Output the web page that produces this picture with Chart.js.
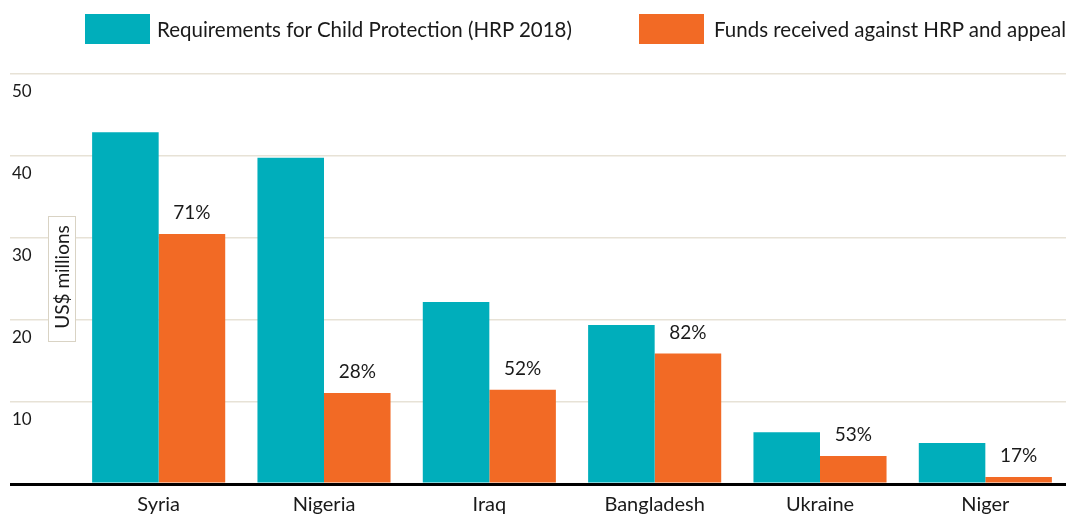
<!DOCTYPE html>
<html>
<head>
<meta charset="utf-8">
<script src="https://cdn.jsdelivr.net/npm/chart.js@4.4.1/dist/chart.umd.min.js"></script>
<style>
  html, body { margin: 0; padding: 0; background: #ffffff; overflow: hidden; }
  #wrap { position: relative; width: 1068px; height: 516px; }
  #wrap canvas { position: absolute; left: 0; top: 0; }
  .lg-box { position: absolute; top: 14px; width: 65px; height: 30px; }
  .lg-text { position: absolute; top: 14px; height: 30px; line-height: 30px;
             font-family: Lato, "DejaVu Sans", sans-serif; font-size: 20.5px;
             color: #1a1a1a; white-space: nowrap; }
</style>
</head>
<body>
<div id="wrap">
  <canvas id="chart" width="1068" height="516"></canvas>
  <div id="legend"></div>
</div>
<script>
// ---- data ----
const categories = ['Syria', 'Nigeria', 'Iraq', 'Bangladesh', 'Ukraine', 'Niger'];
const requirements = [42.9, 39.8, 22.2, 19.4, 6.3, 5.0];      // US$ millions
const fundsReceived = [30.5, 11.1, 11.5, 15.9, 3.4, 0.85];    // US$ millions
const fundedPercent = [71, 28, 52, 82, 53, 17];               // labels over orange bars
const seriesLabels = ['Requirements for Child Protection (HRP 2018)', 'Funds received against HRP and appeal'];
const seriesColors = ['#00aebb', '#f26a25'];
const yTickValues = [0, 10, 20, 30, 40, 50];
const yAxisTitle = 'US$ millions';

const FONT = 'Lato, "DejaVu Sans", sans-serif';
const TEXT = '#1a1a1a';
const GRID = '#e7e2d6';

// ---- HTML legend ----
const legendPos = [{box: 85, text: 157}, {box: 639, text: 714}];
const legendEl = document.getElementById('legend');
seriesLabels.forEach((lab, i) => {
  const b = document.createElement('div');
  b.className = 'lg-box';
  b.style.left = legendPos[i].box + 'px';
  b.style.background = seriesColors[i];
  legendEl.appendChild(b);
  const t = document.createElement('div');
  t.className = 'lg-text';
  t.style.left = legendPos[i].text + 'px';
  t.textContent = lab;
  legendEl.appendChild(t);
});

// ---- plugins ----
const pctLabels = {
  id: 'pctLabels',
  afterDatasetsDraw(chart) {
    const ctx = chart.ctx;
    const meta = chart.getDatasetMeta(1);
    ctx.save();
    ctx.font = '19px ' + FONT;
    ctx.fillStyle = TEXT;
    ctx.textAlign = 'center';
    ctx.textBaseline = 'alphabetic';
    meta.data.forEach((bar, i) => {
      ctx.fillText(fundedPercent[i] + '%', bar.x, bar.y - 15);
    });
    ctx.restore();
  }
};

const unitBox = {
  id: 'unitBox',
  afterDraw(chart) {
    const ctx = chart.ctx;
    const right = chart.chartArea.left;
    const w = 28, h = 126;
    const cy = chart.scales.y.getPixelForValue(25);
    const x = right - w, y = cy - h / 2;
    ctx.save();
    ctx.fillStyle = '#ffffff';
    ctx.fillRect(x, y, w, h);
    ctx.strokeStyle = '#d9d3c4';
    ctx.lineWidth = 1;
    ctx.strokeRect(x + 0.5, y + 0.5, w - 1, h - 1);
    ctx.translate(x + w / 2, cy);
    ctx.rotate(-Math.PI / 2);
    ctx.font = '19px ' + FONT;
    ctx.fillStyle = TEXT;
    ctx.textAlign = 'center';
    ctx.textBaseline = 'middle';
    ctx.fillText(yAxisTitle, 2, 1);
    ctx.restore();
  }
};

// ---- chart ----
new Chart(document.getElementById('chart'), {
  type: 'bar',
  data: {
    labels: categories,
    datasets: [
      { label: seriesLabels[0], data: requirements, backgroundColor: seriesColors[0],
        borderWidth: 0, categoryPercentage: 0.805, barPercentage: 1.0 },
      { label: seriesLabels[1], data: fundsReceived, backgroundColor: seriesColors[1],
        borderWidth: 0, categoryPercentage: 0.805, barPercentage: 1.0 }
    ]
  },
  options: {
    responsive: false,
    animation: false,
    devicePixelRatio: 1,
    layout: { padding: { left: 12, top: 74, right: 0, bottom: 0 } },
    plugins: { legend: { display: false }, tooltip: { enabled: false } },
    scales: {
      x: {
        z: 1,
        afterFit(scale) { scale.height = 32; },
        grid: { display: false, drawTicks: false, tickLength: 0 },
        border: { display: true, color: '#000000', width: 3 },
        ticks: { font: { family: FONT, size: 20 }, color: TEXT, padding: 9, maxRotation: 0 }
      },
      y: {
        min: 0, max: 50,
        afterBuildTicks(scale) { scale.ticks = yTickValues.map(v => ({ value: v })); },
        afterFit(scale) { scale.width = 64; },
        border: { display: false },
        grid: {
          drawTicks: true,
          tickLength: 66,
          color: c => (c.tick && c.tick.value === 0) ? '#000000' : GRID,
          tickColor: c => (c.tick && c.tick.value === 0) ? '#000000' : GRID,
          lineWidth: c => (c.tick && c.tick.value === 0) ? 3 : 1.5,
          tickWidth: c => (c.tick && c.tick.value === 0) ? 3 : 1.5
        },
        ticks: {
          crossAlign: 'far',
          labelOffset: 18,
          padding: 0,
          font: { family: FONT, size: 17 },
          color: TEXT,
          callback: v => (v === 0 ? '' : String(v))
        }
      }
    }
  },
  plugins: [pctLabels, unitBox]
});
</script>
</body>
</html>
